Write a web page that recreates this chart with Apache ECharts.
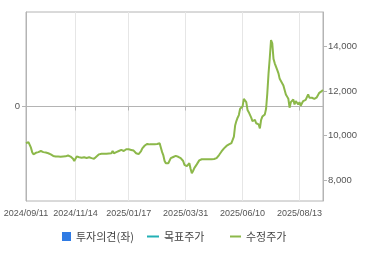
<!DOCTYPE html>
<html><head><meta charset="utf-8">
<script src="https://cdn.jsdelivr.net/npm/echarts@6/dist/echarts.min.js"></script>
<style>html,body{margin:0;padding:0;background:#fff}#c{width:370px;height:255px}</style>
</head><body><div id="c"></div>
<script>
// KRX market holidays within the range (non-trading weekdays)
const holidays = ['2024-09-16','2024-09-17','2024-09-18','2024-10-01','2024-10-03','2024-10-09','2024-12-25','2024-12-31',
  '2025-01-01','2025-01-27','2025-01-28','2025-01-29','2025-01-30','2025-03-03','2025-05-01','2025-05-05','2025-05-06',
  '2025-06-03','2025-06-06','2025-08-15'];
const startDate = '2024-09-11';
const endDate = '2025-09-10';
const tickDates = ['2024/09/11','2024/11/14','2025/01/17','2025/03/31','2025/06/10','2025/08/13'];
const rightTicks = [8000, 10000, 12000, 14000];
const leftTicks = [0];

const price = [
9650,9700,9700,9680,9450,9250,9150,9180,9220,9250,
9250,9250,9300,9280,9250,9250,9230,9200,9200,9200,
9150,9100,9080,9050,9050,9070,9050,9050,9040,9050,
9050,9080,9060,9080,9100,9090,9050,9000,8950,8850,
8800,9050,9000,9020,9000,9000,8980,9020,9000,8990,
9000,9020,9000,8980,8960,8950,8940,9050,9100,9150,
9160,9180,9170,9180,9190,9180,9200,9190,9200,9200,
9300,9200,9150,9250,9270,9300,9330,9350,9280,9300,
9350,9380,9400,9380,9360,9350,9350,9320,9250,9200,
9180,9160,9150,9300,9420,9480,9550,9600,9620,9620,
9600,9610,9600,9600,9610,9600,9620,9650,9650,9450,
9250,9100,8850,8750,8760,8750,8780,8980,9000,9030,
9050,9080,9050,9040,9020,8980,8930,8850,8680,8750,
8620,8650,8750,8500,8300,8400,8530,8600,8700,8750,
8880,8930,8930,8920,8930,8930,8930,8920,8930,8930,
8930,8930,8940,8930,8980,9050,9120,9200,9280,9350,
9420,9480,9530,9575,9600,9630,9660,9680,9950,10450,
10650,10800,10920,11200,11250,11300,11650,11700,11500,11150,
11050,11000,10800,10650,10600,10700,10550,10620,10500,10320,
10700,10850,10880,10950,11200,11900,12800,13500,14300,14150,
13450,13250,13200,12950,12800,12550,12450,12350,12250,12050,
11850,11750,11650,11250,11500,11580,11620,11400,11550,11480,
11400,11500,11330,11450,11550,11520,11600,11650,11850,11700,
11720,11700,11680,11650,11680,11720,11800,11920,11950,12000,
12050
];
const opinion = [];
const target = [];

function tradingDays(s, e) {
  const out = [];
  const d = new Date(s + 'T00:00:00Z');
  const end = new Date(e + 'T00:00:00Z');
  while (d <= end) {
    const iso = d.toISOString().slice(0, 10);
    const wd = d.getUTCDay();
    if (wd !== 0 && wd !== 6 && holidays.indexOf(iso) < 0) out.push(iso.replace(/-/g, '/'));
    d.setUTCDate(d.getUTCDate() + 1);
  }
  return out;
}
const dates = tradingDays(startDate, endDate);

const axisGray = '#b4b4b4';
const labelColor = '#555';
const labelFont = 'Liberation Sans, Arial, sans-serif';
const showTick = (i, v) => tickDates.indexOf(v) >= 0;
const legendText = {fontSize: 11, color: '#444', fontFamily: 'Noto Sans CJK KR'};

const chart = echarts.init(document.getElementById('c'), null, {renderer: 'canvas'});
chart.setOption({
  animation: false,
  backgroundColor: '#fff',
  grid: {left: 26, right: 47, top: 12, bottom: 54, show: true, borderColor: axisGray, borderWidth: 1},
  legend: [
    {left: 57, top: 226, itemWidth: 9, itemHeight: 9, data: [{name: '투자의견(좌)', icon: 'rect'}], textStyle: legendText},
    {left: 142, top: 226, itemWidth: 12, itemHeight: 2, data: [{name: '목표주가', icon: 'rect'}], textStyle: legendText},
    {left: 225, top: 226, itemWidth: 11, itemHeight: 2, data: [{name: '수정주가', icon: 'rect'}], textStyle: legendText}
  ],
  xAxis: {
    type: 'category', data: dates, boundaryGap: false,
    axisLine: {lineStyle: {color: axisGray}},
    axisTick: {show: true, interval: showTick, length: 4, lineStyle: {color: axisGray}},
    axisLabel: {interval: showTick, color: labelColor, fontSize: 9, fontFamily: labelFont, margin: 8, hideOverlap: false},
    splitLine: {show: true, interval: showTick, lineStyle: {color: '#e6e6e6'}}
  },
  yAxis: [
    {type: 'value', position: 'left', min: -1, max: 1,
      axisLine: {show: true, lineStyle: {color: axisGray}},
      axisTick: {show: true, length: 4, customValues: leftTicks, lineStyle: {color: axisGray}},
      axisLabel: {customValues: leftTicks, color: labelColor, fontSize: 9.5, fontFamily: labelFont, margin: 6},
      splitLine: {show: true, lineStyle: {color: '#e6e6e6'}}},
    {type: 'value', position: 'right', min: 7050, max: 15560,
      axisLine: {show: true, lineStyle: {color: axisGray}},
      axisTick: {show: true, length: 4, customValues: rightTicks, lineStyle: {color: axisGray}},
      axisLabel: {customValues: rightTicks, color: labelColor, fontSize: 9.5, fontFamily: labelFont, margin: 5,
        formatter: v => v.toLocaleString('en-US')},
      splitLine: {show: false}}
  ],
  series: [
    {name: '투자의견(좌)', type: 'bar', yAxisIndex: 0, data: opinion, itemStyle: {color: '#2f7be4'}},
    {name: '목표주가', type: 'line', yAxisIndex: 1, data: target, symbol: 'none', lineStyle: {color: '#23b0b5', width: 2}, itemStyle: {color: '#23b0b5'}},
    {name: '수정주가', type: 'line', yAxisIndex: 1, data: price, symbol: 'none', lineStyle: {color: '#8cb84a', width: 2}, itemStyle: {color: '#8cb84a'}}
  ]
});
</script>
</body></html>
